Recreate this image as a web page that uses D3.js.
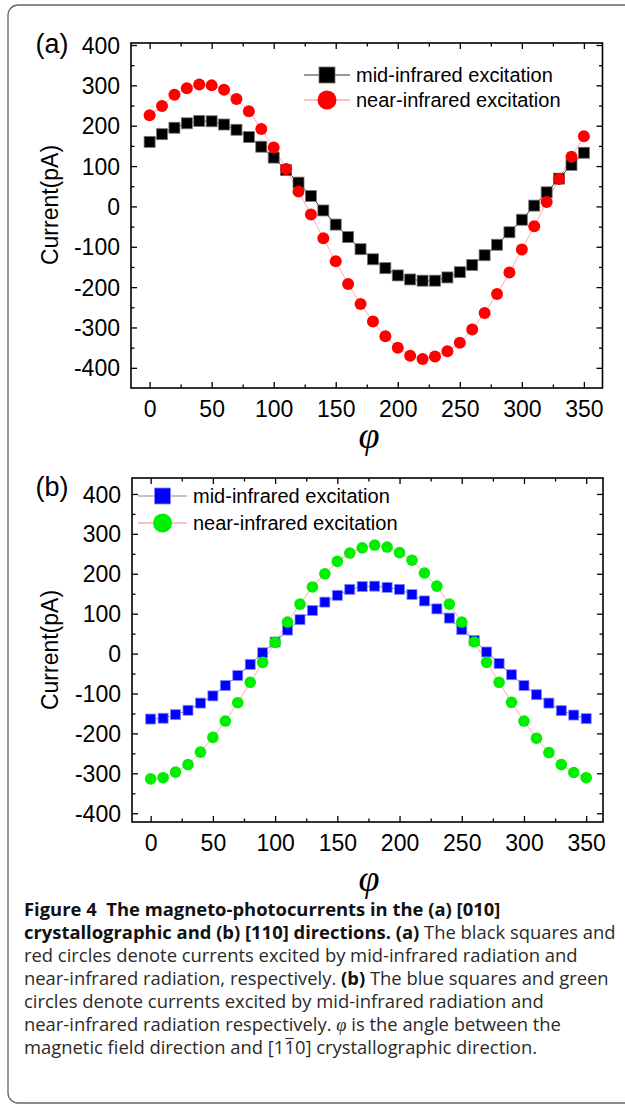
<!DOCTYPE html>
<html>
<head>
<meta charset="utf-8">
<script src="https://cdn.jsdelivr.net/npm/d3@7/dist/d3.min.js"></script>
<style>
  body { margin: 0; background: #fff; }
  svg text { font-family: "Liberation Sans", Arial, sans-serif; }
  .cap { font-family: "Open Sans", "Noto Sans", sans-serif; font-size: 18.4px; fill: #2a2a2a; }
  .cap .b { font-weight: bold; fill: #111; }
</style>
</head>
<body>
<svg id="fig" width="625" height="1105"></svg>
<script>
// angle values (deg)
var angles = [0,10,20,30,40,50,60,70,80,90,100,110,120,130,140,150,160,170,
              180,190,200,210,220,230,240,250,260,270,280,290,300,310,320,330,340,350];

// panel (a): [010] direction
var midA = [160,179,195,206,212,211,203,190,172,148,121,90,59,26,-10,-45,-76,-106,
            -131,-153,-171,-181,-184,-184,-176,-163,-145,-121,-95,-64,-33,2,35,69,103,133];
var nearA = [226,249,277,293,302,300,289,266,236,192,146,93,37,-20,-79,-136,-192,-242,
             -285,-322,-350,-370,-378,-372,-359,-338,-305,-264,-217,-164,-107,-49,11,68,123,174];

// panel (b): [110] direction
var midB = [-164,-162,-153,-142,-124,-106,-80,-55,-27,2,29,59,85,108,129,146,161,168,
            169,166,161,148,132,112,89,60,33,4,-25,-53,-80,-103,-124,-143,-154,-163];
var nearB = [-314,-311,-297,-278,-247,-210,-169,-123,-72,-22,28,79,124,167,200,231,252,265,
             272,267,253,234,202,169,124,79,29,-22,-72,-122,-169,-212,-248,-278,-298,-311];

var xMajor = [0,50,100,150,200,250,300,350];
var xMinor = [25,75,125,175,225,275,325];
var yMajor = [-400,-300,-200,-100,0,100,200,300,400];
var yMinor = [-350,-250,-150,-50,50,150,250,350];
var legendNames = ["mid-infrared excitation", "near-infrared excitation"];

var svg = d3.select('#fig');

// outer rounded border of the figure box
svg.append('rect')
    .attr('x', 8).attr('y', 5)
    .attr('width', 700).attr('height', 1098)
    .attr('rx', 10)
    .attr('fill', 'none')
    .attr('stroke', '#666')
    .attr('stroke-width', 1.3);

function drawPanel(p){
    var x = d3.scaleLinear().domain(p.xDomain).range([p.left, p.right]);
    var y = d3.scaleLinear().domain(p.yDomain).range([p.bottom, p.top]);
    var g = svg.append('g');

    // connecting lines
    var line = d3.line().x(function(d){ return x(d.x); }).y(function(d){ return y(d.y); });
    var midPts = angles.map(function(a, i){ return {x: a, y: p.mid[i]}; });
    var nearPts = angles.map(function(a, i){ return {x: a, y: p.near[i]}; });

    g.append('path').datum(midPts)
        .attr('fill', 'none').attr('stroke', p.midLine).attr('stroke-width', 1)
        .attr('d', line);
    g.append('path').datum(nearPts)
        .attr('fill', 'none').attr('stroke', '#ffaaaa').attr('stroke-width', 1)
        .attr('d', line);

    // squares
    var s = p.sq;
    g.selectAll('.sq').data(midPts).enter().append('rect')
        .attr('x', function(d){ return x(d.x) - s/2; })
        .attr('y', function(d){ return y(d.y) - s/2; })
        .attr('width', s).attr('height', s)
        .attr('fill', p.midColor)
        .attr('stroke', p.midHalo).attr('stroke-width', 0.8);

    // circles
    g.selectAll('.ci').data(nearPts).enter().append('circle')
        .attr('cx', function(d){ return x(d.x); })
        .attr('cy', function(d){ return y(d.y); })
        .attr('r', p.r)
        .attr('fill', p.nearColor);

    // axes, ticks inward
    var ax = g.append('g').attr('class', 'axes');
    var fmt = function(d){ return String(d); };
    function styleAxis(sel){
        sel.select('.domain').remove();
        sel.selectAll('line').attr('stroke', '#000').attr('stroke-width', 1.3);
        sel.selectAll('text').attr('fill', '#000').style('font-size', '23px')
            .style('font-family', '"Liberation Sans", Arial, sans-serif');
    }
    ax.append('g').attr('transform', 'translate(0,' + p.bottom + ')')
        .call(d3.axisBottom(x).tickValues(xMajor).tickSize(-6).tickPadding(12).tickFormat(fmt))
        .call(styleAxis);
    ax.append('g').attr('transform', 'translate(0,' + p.bottom + ')')
        .call(d3.axisBottom(x).tickValues(xMinor).tickSize(-3.5).tickFormat(''))
        .call(styleAxis);
    ax.append('g').attr('transform', 'translate(0,' + p.top + ')')
        .call(d3.axisTop(x).tickValues(xMajor).tickSize(-6).tickFormat(''))
        .call(styleAxis);
    ax.append('g').attr('transform', 'translate(0,' + p.top + ')')
        .call(d3.axisTop(x).tickValues(xMinor).tickSize(-3.5).tickFormat(''))
        .call(styleAxis);
    ax.append('g').attr('transform', 'translate(' + p.left + ',0)')
        .call(d3.axisLeft(y).tickValues(yMajor).tickSize(-6).tickPadding(11).tickFormat(fmt))
        .call(styleAxis);
    ax.append('g').attr('transform', 'translate(' + p.left + ',0)')
        .call(d3.axisLeft(y).tickValues(yMinor).tickSize(-3.5).tickFormat(''))
        .call(styleAxis);
    ax.append('g').attr('transform', 'translate(' + p.right + ',0)')
        .call(d3.axisRight(y).tickValues(yMajor).tickSize(-6).tickFormat(''))
        .call(styleAxis);
    ax.append('g').attr('transform', 'translate(' + p.right + ',0)')
        .call(d3.axisRight(y).tickValues(yMinor).tickSize(-3.5).tickFormat(''))
        .call(styleAxis);
    ax.selectAll('.tick text').each(function(){
        var t = d3.select(this);
        if (t.attr('y') !== null && +t.attr('y') > 0) { t.attr('dy', '0.75em'); }
        else { t.attr('dy', '0.35em'); }
    });

    // frame
    g.append('rect')
        .attr('x', p.left).attr('y', p.top)
        .attr('width', p.right - p.left).attr('height', p.bottom - p.top)
        .attr('fill', 'none').attr('stroke', '#000').attr('stroke-width', 1.6);

    // legend
    var lg = g.append('g');
    [0, 1].forEach(function(i){
        var ly = p.legY[i];
        lg.append('line')
            .attr('x1', p.legX[0]).attr('x2', p.legX[1]).attr('y1', ly).attr('y2', ly)
            .attr('stroke', i == 0 ? p.midLine : '#ff8080').attr('stroke-width', 1.2);
        var cx = (p.legX[0] + p.legX[1]) / 2;
        if (i == 0) {
            lg.append('rect').attr('x', cx - 8).attr('y', ly - 8).attr('width', 16).attr('height', 16)
                .attr('fill', p.midColor).attr('stroke', p.midHalo).attr('stroke-width', 0.8);
        } else {
            lg.append('circle').attr('cx', cx).attr('cy', ly).attr('r', 9.5).attr('fill', p.nearColor);
        }
        lg.append('text')
            .attr('x', p.legX[1] + 6).attr('y', ly).attr('dy', '0.35em')
            .style('font-size', '20px').attr('fill', '#000')
            .text(legendNames[i]);
    });

    // titles
    g.append('text')
        .attr('transform', 'translate(' + p.yTitle[0] + ',' + p.yTitle[1] + ') rotate(-90)')
        .attr('text-anchor', 'middle').attr('dy', '0.35em')
        .style('font-size', '23px').text('Current(pA)');
    g.append('text')
        .attr('x', p.xTitle[0]).attr('y', p.xTitle[1])
        .attr('text-anchor', 'middle').attr('dy', '0.3em')
        .style('font-family', '"Liberation Serif", "DejaVu Serif", serif')
        .style('font-style', 'italic').style('font-size', '38px')
        .text('\u03C6');
    g.append('text')
        .attr('x', p.label[0]).attr('y', p.label[1])
        .attr('text-anchor', 'middle').attr('dy', '0.35em')
        .style('font-size', '27px').text(p.name);
}

drawPanel({
    name: '(a)', mid: midA, near: nearA,
    xDomain: [-15, 365], yDomain: [-450, 405],
    left: 131, right: 602.5, top: 43, bottom: 388,
    sq: 11, r: 6,
    midColor: '#000', midHalo: '#777', midLine: '#333', nearColor: '#ff0000',
    legX: [304, 350], legY: [75, 100],
    yTitle: [50, 205], xTitle: [369, 437], label: [52, 44]
});

drawPanel({
    name: '(b)', mid: midB, near: nearB,
    xDomain: [-15, 363.5], yDomain: [-422, 440],
    left: 132, right: 603, top: 478, bottom: 822,
    sq: 10, r: 5.8,
    midColor: '#0000ff', midHalo: '#8888ff', midLine: '#888', nearColor: '#00ee00',
    legX: [138, 187], legY: [496, 523],
    yTitle: [50, 650], xTitle: [369, 880], label: [52, 487]
});

// caption
var capLines = [
  [['b', 'Figure 4  The magneto-photocurrents in the (a) [010]']],
  [['b', 'crystallographic and (b) [110] directions. (a)'], ['n', ' The black squares and']],
  [['n', 'red circles denote currents excited by mid-infrared radiation and']],
  [['n', 'near-infrared radiation, respectively. '], ['b', '(b)'], ['n', ' The blue squares and green']],
  [['n', 'circles denote currents excited by mid-infrared radiation and']],
  [['n', 'near-infrared radiation respectively. '], ['phi', '\u03C6'], ['n', ' is the angle between the']],
  [['n', 'magnetic field direction and [1'], ['ov', '1'], ['n', '0] crystallographic direction.']]
];
var capY = [916, 939, 962, 985, 1008, 1031, 1054];

capLines.forEach(function(parts, i){
    var t = svg.append('text').attr('class', 'cap').attr('x', 24).attr('y', capY[i])
        .attr('xml:space', 'preserve').style('white-space', 'pre');
    var idx = 0;
    var ovIdx = -1;
    parts.forEach(function(pt){
        var ts = t.append('tspan').text(pt[1]);
        if (pt[0] == 'b') ts.attr('class', 'b');
        if (pt[0] == 'phi') ts.style('font-family', '"Liberation Serif", serif').style('font-style', 'italic');
        if (pt[0] == 'ov') ovIdx = idx;
        idx += pt[1].length;
    });
    // overbar for the negative index (1-bar)
    if (ovIdx >= 0) {
        var ext = t.node().getExtentOfChar(ovIdx);
        svg.append('line')
            .attr('x1', ext.x + 1).attr('x2', ext.x + ext.width - 1)
            .attr('y1', capY[i] - 15.5).attr('y2', capY[i] - 15.5)
            .attr('stroke', '#2a2a2a').attr('stroke-width', 1.1);
    }
});
</script>
</body>
</html>
